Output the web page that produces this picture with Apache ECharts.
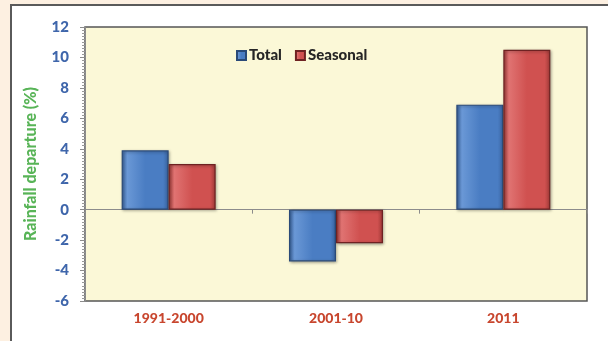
<!DOCTYPE html>
<html>
<head>
<meta charset="utf-8">
<script src="https://cdn.jsdelivr.net/npm/echarts@6/dist/echarts.min.js"></script>
<style>
  html, body { margin: 0; padding: 0; }
  body { width: 608px; height: 341px; background: #fdf0e1; position: relative; overflow: hidden; }
  #frame { position: absolute; left: 10px; top: 4px; right: 0; bottom: 0; background: #ffffff;
           border-top: 2px solid #5a5a5a; border-left: 2px solid #5a5a5a; }
  #chart { position: absolute; left: 0; top: 0; width: 608px; height: 341px; }
</style>
</head>
<body>
<div id="frame"></div>
<div id="chart"></div>
<script>
// Rainfall departure (%) by period
const categories = ['1991-2000', '2001-10', '2011'];
const totalValues = [3.9, -3.4, 6.9];
const seasonalValues = [3.0, -2.2, 10.5];
const yTicks = { min: -6, max: 12, step: 2 };

const font = 'Lato, "Open Sans", sans-serif';

function bevel(edge, mid, light) {
  return {
    type: 'linear', x: 0, y: 0, x2: 1, y2: 0,
    colorStops: [
      { offset: 0, color: edge },
      { offset: 0.12, color: light },
      { offset: 0.5, color: mid },
      { offset: 0.88, color: mid },
      { offset: 1, color: edge }
    ]
  };
}

const chart = echarts.init(document.getElementById('chart'), null, { renderer: 'canvas' });
chart.setOption({
  backgroundColor: 'transparent',
  animation: false,
  grid: {
    left: 85, right: 21, top: 27, bottom: 40,
    show: true, backgroundColor: '#fbf8d7', borderColor: '#555555', borderWidth: 1.5
  },
  legend: {
    left: 231, top: 43,
    itemWidth: 9, itemHeight: 9, itemGap: 13,
    icon: 'rect',
    textStyle: { fontFamily: font, fontSize: 15, fontWeight: 900, color: '#262626', padding: [0, 0, 0, -2] },
    data: ['Total', 'Seasonal']
  },
  xAxis: [
    {
      type: 'category', data: categories, position: 'bottom',
      axisLine: { show: false, onZero: false },
      axisTick: { show: false },
      axisLabel: { color: '#c8462e', fontFamily: font, fontSize: 14, fontWeight: 900, margin: 10 }
    },
    {
      type: 'category', data: categories, position: 'bottom',
      axisLine: { show: true, onZero: true, lineStyle: { color: '#8c8c8c', width: 1.2 } },
      axisTick: { show: true, length: 4, lineStyle: { color: '#8c8c8c' } },
      axisLabel: { show: false }
    }
  ],
  yAxis: {
    type: 'value', min: yTicks.min, max: yTicks.max, interval: yTicks.step,
    name: 'Rainfall departure (%)', nameLocation: 'middle', nameGap: 46,
    nameTextStyle: { color: '#58b457', fontFamily: font, fontSize: 16, fontWeight: 900 },
    axisLine: { show: true, lineStyle: { color: '#8c8c8c', width: 1 } },
    axisTick: { show: true, length: 5, lineStyle: { color: '#8c8c8c' } },
    minorTick: { show: true, splitNumber: 10, length: 3, lineStyle: { color: '#9a9a9a' } },
    splitLine: { show: false },
    axisLabel: { color: '#3f66ab', fontFamily: font, fontSize: 15, fontWeight: 900, margin: 16 }
  },
  series: [
    {
      name: 'Total', type: 'bar', xAxisIndex: 0, data: totalValues,
      barWidth: 47, barGap: '0%',
      itemStyle: {
        color: bevel('#3a64a0', '#4a7dc3', '#6a98d6'),
        borderColor: '#2a4a78', borderWidth: 1.2,
        shadowColor: 'rgba(0,0,0,0.35)', shadowBlur: 3, shadowOffsetX: 1, shadowOffsetY: 1
      }
    },
    {
      name: 'Seasonal', type: 'bar', xAxisIndex: 0, data: seasonalValues,
      barWidth: 47, barGap: '0%',
      itemStyle: {
        color: bevel('#a23a38', '#d05150', '#e07372'),
        borderColor: '#6e2222', borderWidth: 1.2,
        shadowColor: 'rgba(0,0,0,0.35)', shadowBlur: 3, shadowOffsetX: 1, shadowOffsetY: 1
      }
    }
  ]
});
</script>
</body>
</html>
